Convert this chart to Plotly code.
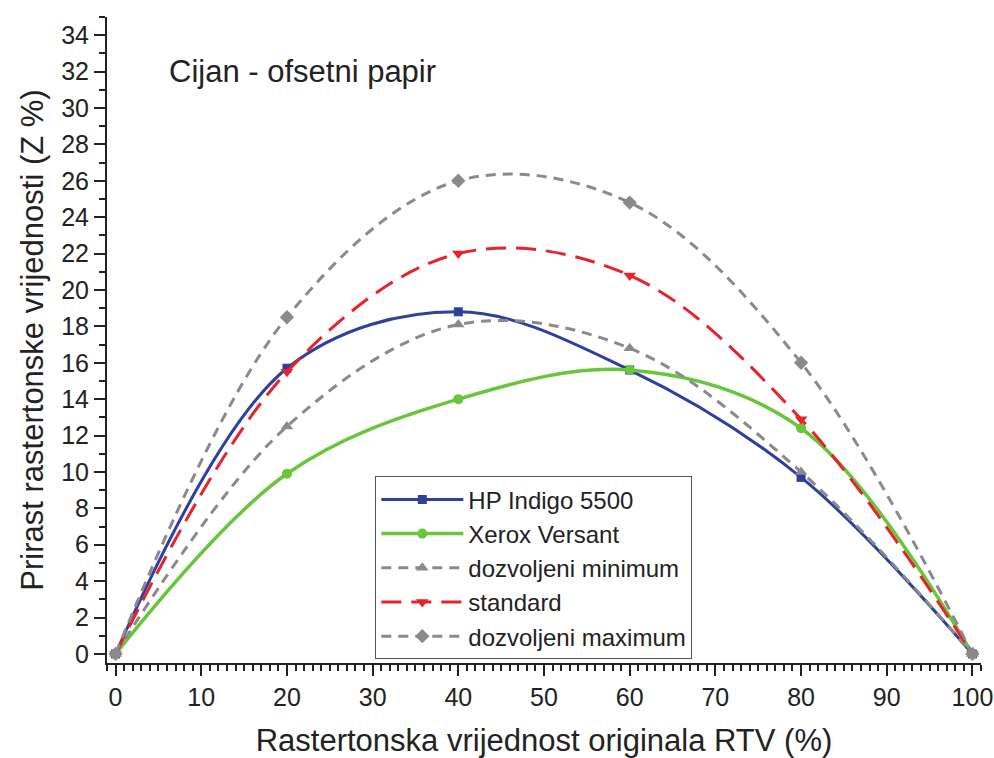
import plotly.graph_objects as go

rtv = [0, 20, 40, 60, 80, 100]
hp_indigo = [0, 15.7, 18.8, 15.6, 9.7, 0]
xerox = [0, 9.9, 14.0, 15.6, 12.4, 0]
doz_min = [0, 12.5, 18.1, 16.8, 10.0, 0]
standard = [0, 15.5, 22.0, 20.8, 12.9, 0]
doz_max = [0, 18.5, 26.0, 24.8, 16.0, 0]

x_ticks = list(range(0, 101, 10))
y_ticks = list(range(0, 35, 2))

series = [
    ("HP Indigo 5500", hp_indigo, "#2f3f9e", "solid", "square", 9, 3),
    ("Xerox Versant", xerox, "#69c63c", "solid", "circle", 10, 3.5),
    ("dozvoljeni minimum", doz_min, "#8a8a8c", "10px,7px", "triangle-up", 11, 3),
    ("standard", standard, "#e5232b", "20px,10px", "triangle-down", 11, 3),
    ("dozvoljeni maximum", doz_max, "#8a8a8c", "10px,7px", "diamond", 11, 3),
]

fig = go.Figure()
for name, vals, color, dash, sym, msize, lw in series:
    fig.add_trace(go.Scatter(
        x=rtv, y=vals, name=name, mode="lines+markers",
        line=dict(color=color, width=lw, dash=dash, shape="spline", smoothing=1.0),
        marker=dict(symbol=sym, size=msize, color=color),
    ))

fig.update_layout(
    width=994, height=758,
    margin=dict(l=107, r=13, t=17, b=95),
    paper_bgcolor="white", plot_bgcolor="white",
    font=dict(family="Liberation Sans, Arial, sans-serif", color="#222222"),
    showlegend=True,
    legend=dict(
        x=0.307, y=0.289, xanchor="left", yanchor="top",
        bordercolor="#555555", borderwidth=1, bgcolor="white",
        font=dict(size=24, color="#222222"),
        tracegroupgap=0, itemwidth=82,
    ),
    annotations=[dict(
        x=0.069, y=0.915, xref="paper", yref="paper", xanchor="left", yanchor="middle",
        text="Cijan - ofsetni papir", showarrow=False,
        font=dict(size=31, color="#222222"),
    )],
)

fig.update_xaxes(
    range=[-1, 101], tickvals=x_ticks, ticktext=[str(v) for v in x_ticks],
    showgrid=False, zeroline=False, showline=True, linecolor="#222222", linewidth=2,
    ticks="outside", ticklen=11, tickwidth=2, tickcolor="#222222",
    minor=dict(dtick=1, ticks="outside", ticklen=6, tickwidth=1.5, tickcolor="#222222", showgrid=False),
    tickfont=dict(size=25),
    automargin=False,
    title=dict(text="Rastertonska vrijednost originala RTV (%)", font=dict(size=31), standoff=19),
)
fig.update_yaxes(
    range=[-0.5, 35], tickvals=y_ticks, ticktext=[str(v) for v in y_ticks],
    showgrid=False, zeroline=False, showline=True, linecolor="#222222", linewidth=2,
    ticks="outside", ticklen=11, tickwidth=2, tickcolor="#222222",
    minor=dict(dtick=1, ticks="outside", ticklen=6, tickwidth=1.5, tickcolor="#222222", showgrid=False),
    tickfont=dict(size=25),
    automargin=False,
    title=dict(text="Prirast rastertonske vrijednosti (Z %)", font=dict(size=31), standoff=8),
)

fig.write_html("out.html", config={"displayModeBar": False},
               post_script="document.body.style.margin='0';")
